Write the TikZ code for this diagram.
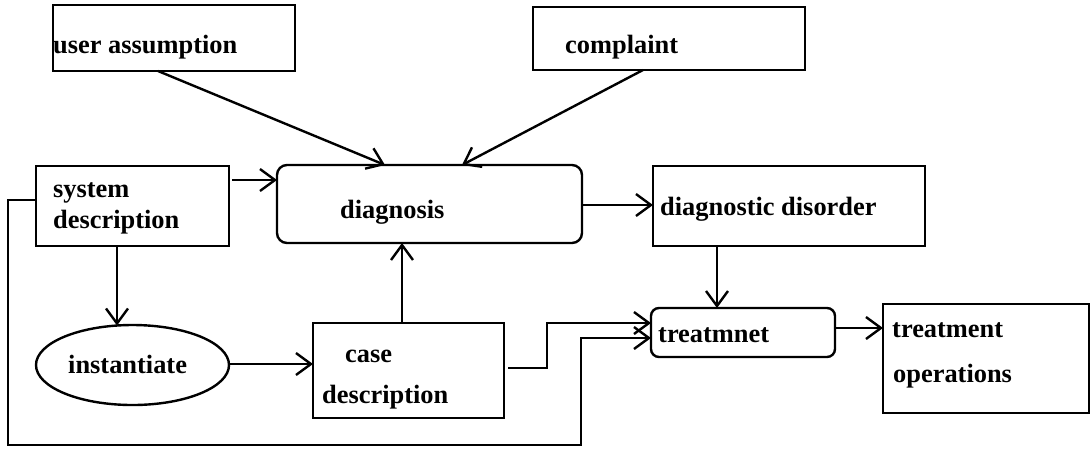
\documentclass[tikz,border=0pt]{standalone}
\usepackage{fontspec}
\setmainfont{Liberation Serif}
\usetikzlibrary{arrows.meta,shapes.geometric,calc}
\begin{document}
\begin{tikzpicture}[x=1pt,y=-1pt,
  box/.style={draw,line width=2.4pt,rectangle,inner sep=0pt,outer sep=0pt},
  rbox/.style={box,rounded corners=10pt},
  ebox/.style={draw,line width=2.4pt,ellipse,inner sep=0pt,outer sep=0pt},
  lbl/.style={anchor=base west,inner sep=0pt,font=\fontsize{26.4}{30}\selectfont\bfseries},
  conn/.style={line width=2.4pt,-{Straight Barb[length=15pt,width=22pt,line width=2.4pt]}}]
\useasboundingbox (0,0) rectangle (1091,451);
% boxes
\node[box,minimum width=242pt,minimum height=66pt] (ua) at (174,38) {};
\node[box,minimum width=272pt,minimum height=63pt] (cp) at (669,38.5) {};
\node[box,minimum width=193pt,minimum height=80pt] (sd) at (132.5,206) {};
\node[rbox,minimum width=305pt,minimum height=78pt] (dg) at (429.5,204) {};
\node[box,minimum width=272pt,minimum height=80pt] (dd) at (789,206) {};
\node[rbox,rounded corners=8pt,minimum width=184pt,minimum height=49pt] (tr) at (743,332.5) {};
\node[box,minimum width=206pt,minimum height=109pt] (to) at (986,358.5) {};
\node[ebox,minimum width=193pt,minimum height=80pt] (in) at (132.5,365) {};
\node[box,minimum width=191pt,minimum height=95pt] (cd) at (408.5,370.5) {};
% texts
\node[lbl] (tua) at (53,53) {user assumption};
\node[lbl] (tcp) at (565,53) {complaint};
\node[lbl] (tsd1) at (53,197) {system};
\node[lbl] (tsd2) at (53,228) {description};
\node[lbl] (tdg) at (340,218) {diagnosis};
\node[lbl] (tdd) at (660,215) {diagnostic disorder};
\node[lbl] (ttr) at (658,342) {treatmnet};
\node[lbl] (tto1) at (892,337) {treatment};
\node[lbl] (tto2) at (893,382) {operations};
\node[lbl] (tin) at (68,373) {instantiate};
\node[lbl] (tcd1) at (345,362) {case};
\node[lbl] (tcd2) at (322,403) {description};
% connectors
\draw[conn] ($(ua.south west)+(105,0)$) -- ($(dg.north west)+(108,0)$);
\draw[conn] ($(cp.south west)+(110,0)$) -- ($(dg.north west)+(185,0)$);
\draw[conn] ($(sd.north east)+(3,14)$) -- ($(dg.north west)+(0,15)$);
\draw[conn] ($(dg.north east)+(0,40)$) -- ($(dd.north west)+(0,39)$);
\draw[conn] ($(dd.south west)+(64,0)$) -- ($(tr.north west)+(66,0)$);
\draw[conn] ($(sd.south west)+(81,0)$) -- ($(in.north)+(-15.5,0.5)$);
\draw[conn] ($(in.east)+(0,-1)$) -- ($(cd.north west)+(0,41)$);
\draw[conn] ($(cd.north west)+(89,0)$) -- ($(dg.south west)+(125,0)$);
\draw[conn] ($(cd.north east)+(4,45)$) -- ++(39,0) |- ($(tr.north west)+(0,15)$);
\draw[conn] ($(sd.north west)+(0,34)$) -- ++(-28,0) |- ($(tr.north west)+(-70,137)$) |- ($(tr.north west)+(0,30)$);
\draw[conn] ($(tr.north east)+(0,20)$) -- ($(to.north west)+(0,24)$);
\end{tikzpicture}
\end{document}
